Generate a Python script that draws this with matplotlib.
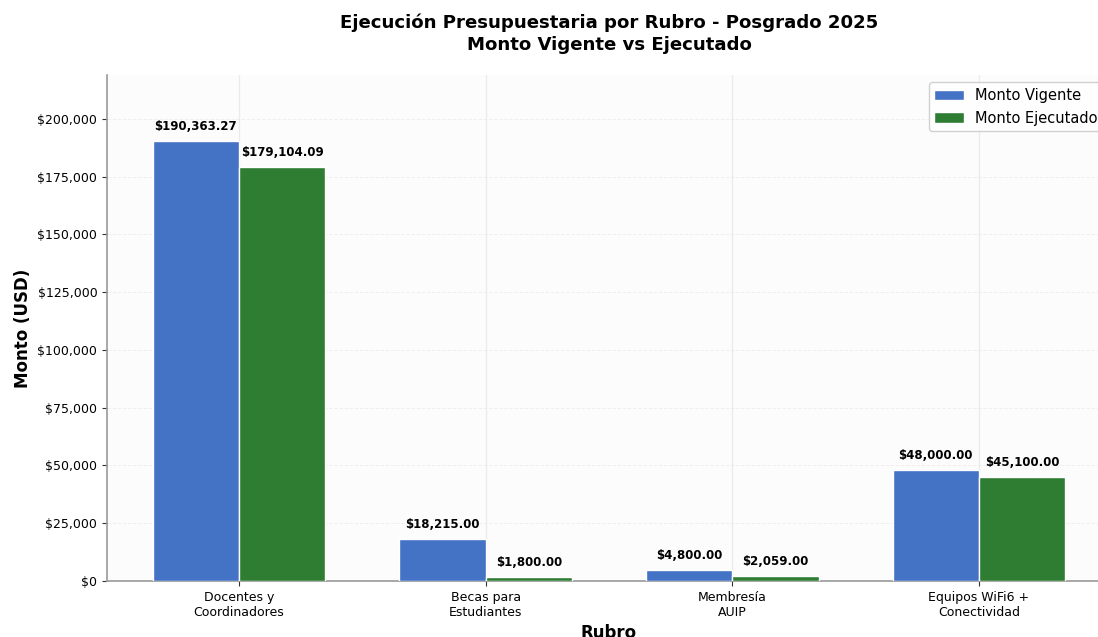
import matplotlib
matplotlib.use("Agg")
import matplotlib.pyplot as plt
import numpy as np
from matplotlib.ticker import FuncFormatter

categories = ["Docentes y\nCoordinadores", "Becas para\nEstudiantes", "Membresía\nAUIP", "Equipos WiFi6 +\nConectividad"]
vigente = [190363.27, 18215.00, 4800.00, 48000.00]
ejecutado = [179104.09, 1800.00, 2059.00, 45100.00]

fig = plt.figure(figsize=(10.98, 6.37), dpi=100)
ax = fig.add_axes([0.0975, 0.0879, 0.9143, 0.7941])
ax.set_facecolor("#fcfcfc")

x = np.arange(len(categories))
w = 0.35
b1 = ax.bar(x - w/2, vigente, w, color="#4472C4", edgecolor="white", linewidth=1, label="Monto Vigente", zorder=3)
b2 = ax.bar(x + w/2, ejecutado, w, color="#2E7D32", edgecolor="white", linewidth=1, label="Monto Ejecutado", zorder=3)

mx = max(vigente)
for bars, vals in ((b1, vigente), (b2, ejecutado)):
    for r, v in zip(bars, vals):
        ax.text(r.get_x() + r.get_width()/2, v + mx*0.018, f"${v:,.2f}", ha="center", va="bottom",
                fontsize=8.5, fontweight="bold")

ax.set_ylim(0, mx*1.15)
ax.yaxis.set_major_formatter(FuncFormatter(lambda v, p: f"${v:,.0f}"))
ax.set_xticks(x)
ax.set_xticklabels(categories, fontsize=9)
ax.tick_params(axis="y", labelsize=9)
ax.tick_params(colors="#333333", labelcolor="black")
ax.set_ylabel("Monto (USD)", fontsize=12, fontweight="bold")
ax.set_xlabel("Rubro", fontsize=12, fontweight="bold")
ax.set_title("Ejecución Presupuestaria por Rubro - Posgrado 2025\nMonto Vigente vs Ejecutado",
             fontsize=13.1, fontweight="bold", pad=18, linespacing=1.3)
ax.xaxis.grid(True, color="#ebebeb", linestyle="-", linewidth=0.9, zorder=0)
ax.yaxis.grid(True, color="#e6e6e6", alpha=0.6, linestyle="--", linewidth=0.7, zorder=0)
ax.set_axisbelow(True)
for s in ("top", "right"):
    ax.spines[s].set_visible(False)
for s in ("left", "bottom"):
    ax.spines[s].set_color("#999999")
    ax.spines[s].set_linewidth(1.2)
ax.legend(loc="upper right", fontsize=10.5, framealpha=0.9)

fig.savefig("out.png", dpi=100)
